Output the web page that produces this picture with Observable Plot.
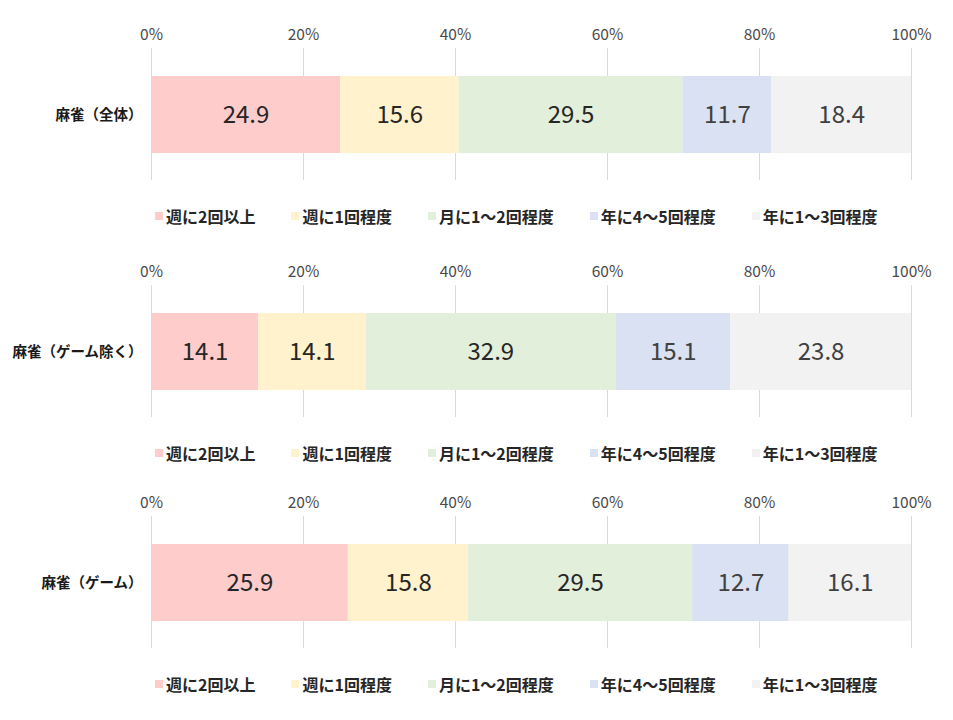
<!DOCTYPE html>
<html>
<head>
<meta charset="utf-8">
<script src="https://cdn.jsdelivr.net/npm/d3@7"></script>
<script src="https://cdn.jsdelivr.net/npm/@observablehq/plot@0.6"></script>
<style>
  html, body { margin: 0; padding: 0; background: #fff; }
  body { width: 953px; font-family: "Noto Sans CJK JP", "Noto Sans", sans-serif; }
  .panel { position: relative; }
  .panel:nth-child(1) { height: 237px; }
  .panel:nth-child(2) { height: 231px; }
  .panel:nth-child(3) { height: 240px; }
  .panel svg { display: block; }
  .legend { display: flex; gap: 36px; padding-left: 155px; height: 42px; line-height: 36px;
            font-size: 16px; font-weight: 700; color: #262626; }
  .legend .item { display: flex; align-items: center; }
  .legend .sw { width: 8px; height: 8px; margin-right: 3px; display: inline-block; }
</style>
</head>
<body>
<div id="chart"></div>
<script>
const categories = ["麻雀（全体）", "麻雀（ゲーム除く）", "麻雀（ゲーム）"];
const series = ["週に2回以上", "週に1回程度", "月に1～2回程度", "年に4～5回程度", "年に1～3回程度"];
const valuesAll   = [24.9, 15.6, 29.5, 11.7, 18.4];
const valuesNoGame = [14.1, 14.1, 32.9, 15.1, 23.8];
const valuesGame  = [25.9, 15.8, 29.5, 12.7, 16.1];
const tickValues = [0, 20, 40, 60, 80, 100];

const palette = ["#FFCCCC", "#FFF2CC", "#E2EFDA", "#D9E1F2", "#F2F2F2"];
const labelInk = ["#262626", "#262626", "#262626", "#404040", "#404040"];

const panels = [
  {cat: categories[0], values: valuesAll},
  {cat: categories[1], values: valuesNoGame},
  {cat: categories[2], values: valuesGame}
];

const root = document.getElementById("chart");
const fmt = d => Math.round(d * 100) + "%";
const ticks = tickValues.map(t => t / 100);

for (const p of panels) {
  const rows = p.values.map((v, i) => ({cat: p.cat, series: series[i], si: i, value: v}));
  const div = document.createElement("div");
  div.className = "panel";
  const stackOpts = {x: "value", y: "cat", z: "series", offset: "normalize"};
  const plot = Plot.plot({
    width: 953,
    height: 195,
    marginLeft: 151,
    marginRight: 42,
    marginTop: 48,
    marginBottom: 15,
    style: {fontFamily: '"Noto Sans CJK JP", "Noto Sans", sans-serif', background: "#fff"},
    x: {domain: [0, 1]},
    y: {domain: [p.cat], padding: 0.263},
    color: {domain: series, range: palette},
    marks: [
      Plot.gridX(ticks, {stroke: "#d9d9d9", strokeOpacity: 1, strokeWidth: 1}),
      Plot.barX(rows, Plot.stackX({...stackOpts, fill: "series", inset: 0})),
      Plot.text(rows, Plot.stackX({...stackOpts, text: d => d.value.toFixed(1),
        fill: d => labelInk[d.si], fontSize: 24})),
      Plot.axisX({anchor: "top", ticks, tickFormat: fmt, tickSize: 0, tickPadding: 9,
        fontSize: 15.5, color: "#4a4a4a", label: null}),
      Plot.axisY({tickSize: 0, tickPadding: 9, fontSize: 14.5, fontWeight: 700,
        color: "#1a1a1a", label: null})
    ]
  });
  div.appendChild(plot);
  const leg = document.createElement("div");
  leg.className = "legend";
  series.forEach((s, i) => {
    const it = document.createElement("span");
    it.className = "item";
    const sw = document.createElement("span");
    sw.className = "sw";
    sw.style.background = palette[i];
    it.appendChild(sw);
    it.appendChild(document.createTextNode(s));
    leg.appendChild(it);
  });
  div.appendChild(leg);
  root.appendChild(div);
}
</script>
</body>
</html>
